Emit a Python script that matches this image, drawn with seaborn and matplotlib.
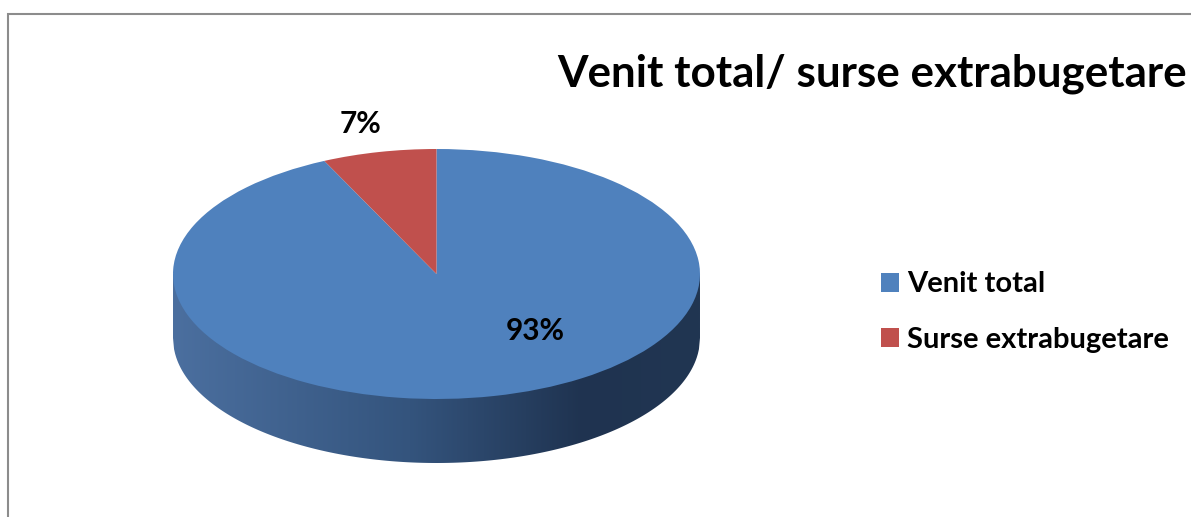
import matplotlib
matplotlib.use("Agg")
import matplotlib.pyplot as plt
import numpy as np
import seaborn as sns
from matplotlib.colors import LinearSegmentedColormap
from matplotlib.patches import Rectangle

categories = ["Venit total", "Surse extrabugetare"]
shares = [93, 7]
pct_labels = ["93%", "7%"]
slice_colors = ["#4f81bd", "#c0504d"]
title = "Venit total/ surse extrabugetare"

W, H = 1191, 517

sns.set_theme(style="white")
plt.rcParams["font.family"] = ["Lato", "DejaVu Sans"]

fig = plt.figure(figsize=(W / 100, H / 100), dpi=100)

# pie geometry in pixels (top face is an ellipse: squashed unit circle)
cx, cy = 436.5, 274.0
rx, ry = 263.5, 125.0
depth = 64.0 / ry
xlim = (-1.15, 1.15)
ylim = (-1.7, 1.4)
left = cx + xlim[0] * rx
bottom = (H - cy) + ylim[0] * ry
ax = fig.add_axes([
    left / W,
    bottom / H,
    (xlim[1] - xlim[0]) * rx / W,
    (ylim[1] - ylim[0]) * ry / H,
])

# side of the 3D pie with horizontal shading
x = np.linspace(-1, 1, 500)
front = -np.sqrt(1 - x**2)
side = ax.fill_between(x, front - depth, 0, color="none", lw=0)
side_cmap = LinearSegmentedColormap.from_list(
    "side",
    [(0.0, "#4b6f9f"), (0.45, "#34547d"), (0.78, "#1f3350"), (1.0, "#213652")],
)
im = ax.imshow(
    np.linspace(0, 1, 256)[None, :],
    cmap=side_cmap,
    extent=[-1, 1, -1 - depth, 0],
    aspect="auto",
    zorder=1,
)
im.set_clip_path(side.get_paths()[0], ax.transData)

wedges, _ = ax.pie(
    shares,
    colors=slice_colors,
    startangle=90,
    counterclock=False,
    radius=1,
    wedgeprops=dict(linewidth=0, zorder=3, antialiased=True),
)

label_pos = [(0.375, -0.46), (-0.287, 1.2)]
for lab, (lx, ly) in zip(pct_labels, label_pos):
    ax.text(lx, ly, lab, ha="center", va="center", fontsize=21.5,
            fontweight="bold", color="black", zorder=5)

ax.set_aspect("auto")
ax.set_xlim(*xlim)
ax.set_ylim(*ylim)
ax.axis("off")

ax.legend(
    wedges,
    categories,
    loc="center left",
    bbox_to_anchor=(881 / W, 1 - 312 / H),
    bbox_transform=fig.transFigure,
    frameon=False,
    prop={"weight": "bold", "size": 21},
    labelcolor="black",
    handlelength=0.62,
    handleheight=0.62,
    handletextpad=0.28,
    labelspacing=1.0,
    borderpad=0,
    borderaxespad=0,
)

fig.text(557 / W, 1 - 87 / H, title, ha="left", va="baseline",
         fontsize=31.7, fontweight="bold", color="black")

fig.patches.append(Rectangle(
    (7.5 / W, -0.2), 1.5, 0.2 + (H - 13.5) / H,
    transform=fig.transFigure, fill=False, edgecolor="#8c8c8c", linewidth=1.5,
))

fig.savefig("out.png", dpi=100)
plt.close(fig)
